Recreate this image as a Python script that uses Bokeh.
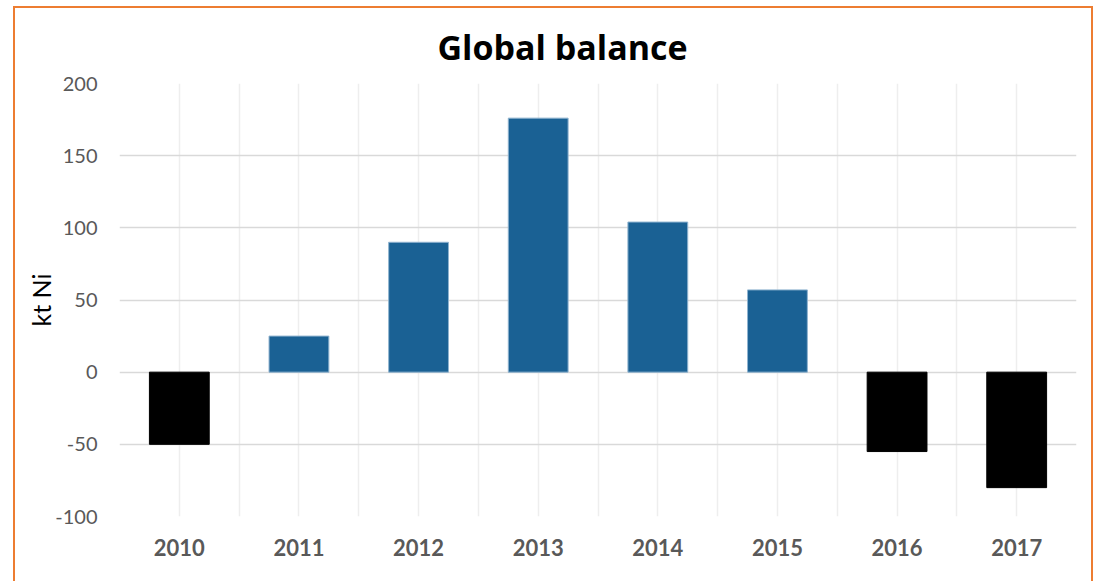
from bokeh.plotting import figure
from bokeh.models import ColumnDataSource, FixedTicker, Range1d
from bokeh.embed import file_html
from bokeh.resources import INLINE

years = ["2010", "2011", "2012", "2013", "2014", "2015", "2016", "2017"]
balance = [-50, 25, 90, 176, 104, 57, -55, -80]
y_ticks = [-100, -50, 0, 50, 100, 150, 200]
y_tick_labels = ["-100", "-50", "0", "50", "100", "150", "200"]

BLUE = "#1A6194"
colors = [BLUE if v >= 0 else "#000000" for v in balance]
xs = [i + 0.5 for i in range(len(years))]

src = ColumnDataSource(dict(x=xs, top=balance, color=colors,
                            line=["#8fb3cf" if v >= 0 else "#000000" for v in balance]))

p = figure(width=1080, height=575, output_backend="svg", toolbar_location=None,
           x_range=Range1d(0, len(years)), y_range=Range1d(-100, 200),
           title="Global balance",
           min_border_left=104, min_border_right=19, min_border_top=75, min_border_bottom=67)
p.styles = {"margin-left": "13px", "margin-top": "6px",
            "border-left": "2px solid #ED7D31", "border-top": "2px solid #ED7D31",
            "border-right": "2px solid #ED7D31"}
p.outline_line_color = None
p.background_fill_color = "white"
p.border_fill_color = "white"

p.title.align = "left"
p.title.offset = 318
p.title.standoff = 27
p.title.text_font = "Open Sans"
p.title.text_font_style = "bold"
p.title.text_font_size = "34px"
p.title.text_color = "#000000"

p.vbar(x="x", top="top", bottom=0, width=0.5, fill_color="color", line_color="line",
       line_width=1, source=src)

# axes
p.xaxis.ticker = FixedTicker(ticks=xs)
p.xaxis.major_label_overrides = {x: y for x, y in zip(xs, years)}
p.yaxis.ticker = FixedTicker(ticks=y_ticks)
p.yaxis.major_label_overrides = {t: s for t, s in zip(y_ticks, y_tick_labels)}
for ax in (p.xaxis[0], p.yaxis[0]):
    ax.axis_line_color = None
    ax.major_tick_line_color = None
    ax.minor_tick_line_color = None
    ax.major_label_text_color = "#595959"
    ax.major_label_text_font = "Lato"
    ax.major_label_text_font_size = "20px"
    ax.major_label_standoff = 16
p.xaxis.major_label_text_font_style = "bold"
p.xaxis.major_label_text_font_size = "22px"
p.xaxis.major_label_standoff = 16

p.yaxis.axis_label = "kt Ni"
p.yaxis.axis_label_text_font = "Lato"
p.yaxis.axis_label_text_font_style = "normal"
p.yaxis.axis_label_text_font_size = "25px"
p.yaxis.axis_label_text_color = "#000000"
p.yaxis.axis_label_standoff = -4

p.xgrid.ticker = FixedTicker(ticks=[i * 0.5 for i in range(2 * len(years) + 1)])
p.xgrid.grid_line_color = "#eeeeee"
p.xgrid.grid_line_width = 1.5
p.ygrid.ticker = FixedTicker(ticks=y_ticks)
p.ygrid.grid_line_color = "#d9d9d9"
p.ygrid.grid_line_width = 1.5
p.xgrid.level = "underlay"
p.ygrid.level = "underlay"

open("out.html", "w").write(file_html(p, INLINE))
